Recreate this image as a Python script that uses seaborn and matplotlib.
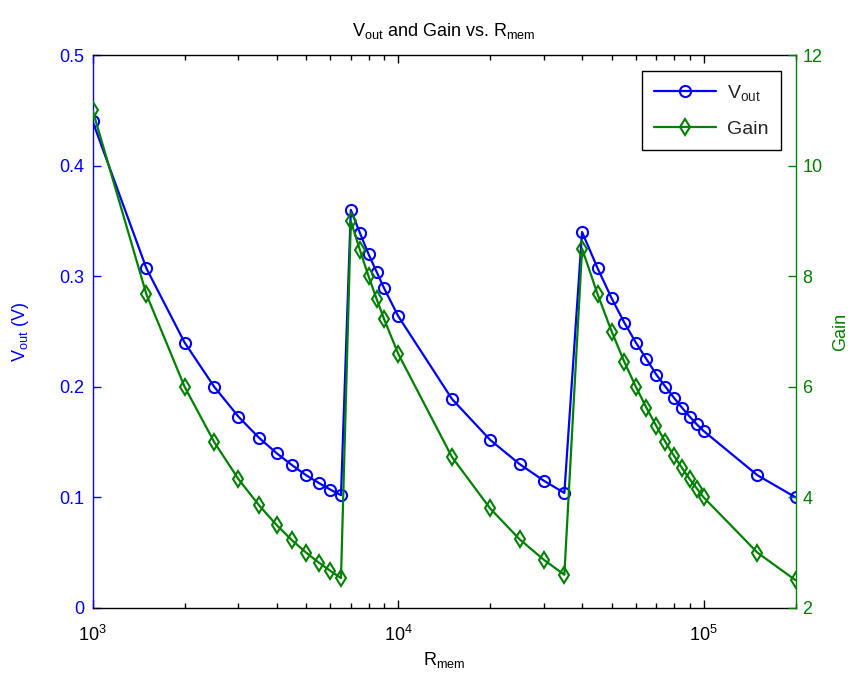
import numpy as np
import pandas as pd
import matplotlib
matplotlib.use("Agg")
import matplotlib.pyplot as plt
import seaborn as sns

# Data
r_mem = [1000, 1500, 2000, 2500, 3000, 3500, 4000, 4500, 5000, 5500, 6000, 6500,
         7000, 7500, 8000, 8500, 9000, 10000, 15000, 20000, 25000, 30000, 35000,
         40000, 45000, 50000, 55000, 60000, 65000, 70000, 75000, 80000, 85000,
         90000, 95000, 100000, 150000, 200000]
vout = [0.44, 0.307, 0.24, 0.20, 0.173, 0.154, 0.14, 0.129, 0.12, 0.113, 0.107, 0.102,
        0.36, 0.339, 0.32, 0.304, 0.289, 0.264, 0.189, 0.152, 0.13, 0.115, 0.104,
        0.34, 0.307, 0.28, 0.258, 0.24, 0.225, 0.211, 0.20, 0.19, 0.181,
        0.173, 0.166, 0.16, 0.12, 0.10]
gain = [11.0, 7.67, 6.0, 5.0, 4.33, 3.86, 3.5, 3.22, 3.0, 2.82, 2.67, 2.54,
        9.0, 8.47, 8.0, 7.59, 7.22, 6.6, 4.73, 3.8, 3.24, 2.87, 2.6,
        8.5, 7.67, 7.0, 6.45, 6.0, 5.62, 5.29, 5.0, 4.75, 4.53,
        4.33, 4.16, 4.0, 3.0, 2.5]
left_ticks = [0, 0.1, 0.2, 0.3, 0.4, 0.5]
left_ticklabels = ["0", "0.1", "0.2", "0.3", "0.4", "0.5"]
right_ticks = [2, 4, 6, 8, 10, 12]

sns.set_theme(style="white")
plt.rcParams["font.family"] = ["Liberation Sans", "DejaVu Sans"]
plt.rcParams["mathtext.fontset"] = "custom"
plt.rcParams["mathtext.rm"] = "Liberation Sans"
plt.rcParams["mathtext.it"] = "Liberation Sans"
plt.rcParams["mathtext.default"] = "regular"

BLUE = (0, 0, 1)
GREEN = (0, 0.5, 0)

df = pd.DataFrame({"R": r_mem, "Vout": vout, "Gain": gain})

fig = plt.figure(figsize=(8.5, 6.8), dpi=100)
ax = fig.add_axes([0.109, 0.106, 0.827, 0.813])
ax2 = ax.twinx()

sns.lineplot(data=df, x="R", y="Vout", ax=ax, color=BLUE, marker="o",
             markersize=8, markerfacecolor="none", markeredgecolor=BLUE,
             markeredgewidth=1.5, linewidth=1.6, errorbar=None, legend=False)
sns.lineplot(data=df, x="R", y="Gain", ax=ax2, color=GREEN, marker="d",
             markersize=8, markerfacecolor="none", markeredgecolor=GREEN,
             markeredgewidth=1.5, linewidth=1.6, errorbar=None, legend=False)

ax.set_xscale("log")
ax.set_xlim(1000, 200000)
ax.set_ylim(0, 0.5)
ax2.set_ylim(2, 12)
ax.set_yticks(left_ticks)
ax.set_yticklabels(left_ticklabels)
ax2.set_yticks(right_ticks)

fs = 13
ax.tick_params(axis="x", which="both", direction="in", top=True, bottom=True,
               labelsize=fs, colors="black", pad=12)
ax.tick_params(axis="x", which="major", length=6, width=1)
ax.tick_params(axis="x", which="minor", length=3.5, width=1)
ax.tick_params(axis="y", which="both", direction="in", left=True, right=False,
               labelsize=fs, colors=BLUE, length=6, width=1, pad=6)
ax2.tick_params(axis="y", which="both", direction="in", right=True, left=False,
                labelsize=fs, colors=GREEN, length=6, width=1, pad=5)

for s in ["top", "bottom"]:
    ax.spines[s].set_color("black")
    ax.spines[s].set_linewidth(1)
    ax2.spines[s].set_visible(False)
ax.spines["left"].set_color(BLUE)
ax.spines["right"].set_visible(False)
ax2.spines["left"].set_visible(False)
ax2.spines["right"].set_color(GREEN)
ax2.spines["right"].set_linewidth(1)
ax.spines["left"].set_linewidth(1)

ax.set_xlabel("R$_{mem}$", fontsize=fs, color="black", labelpad=4)
ax.set_ylabel("V$_{out}$ (V)", fontsize=fs, color=BLUE)
ax.yaxis.set_label_coords(-0.088, 0.5)
ax2.set_ylabel("Gain", fontsize=fs, color=GREEN)
ax2.yaxis.set_label_coords(1.052, 0.5)
ax.set_title("V$_{out}$ and Gain vs. R$_{mem}$", fontsize=fs, color="black", pad=14)

handles = [ax.get_lines()[0], ax2.get_lines()[0]]
leg = ax2.legend(handles, ["V$_{out}$", "Gain"], loc="upper right",
                 bbox_to_anchor=(0.987, 0.981), fontsize=fs + 1, frameon=True,
                 fancybox=False, handlelength=3.2, borderpad=0.6,
                 labelspacing=0.9, handletextpad=0.6, borderaxespad=0.3)
leg.get_frame().set_edgecolor("black")
leg.get_frame().set_linewidth(1)
leg.get_frame().set_alpha(1)

fig.savefig("out.png", dpi=100, facecolor="white")
